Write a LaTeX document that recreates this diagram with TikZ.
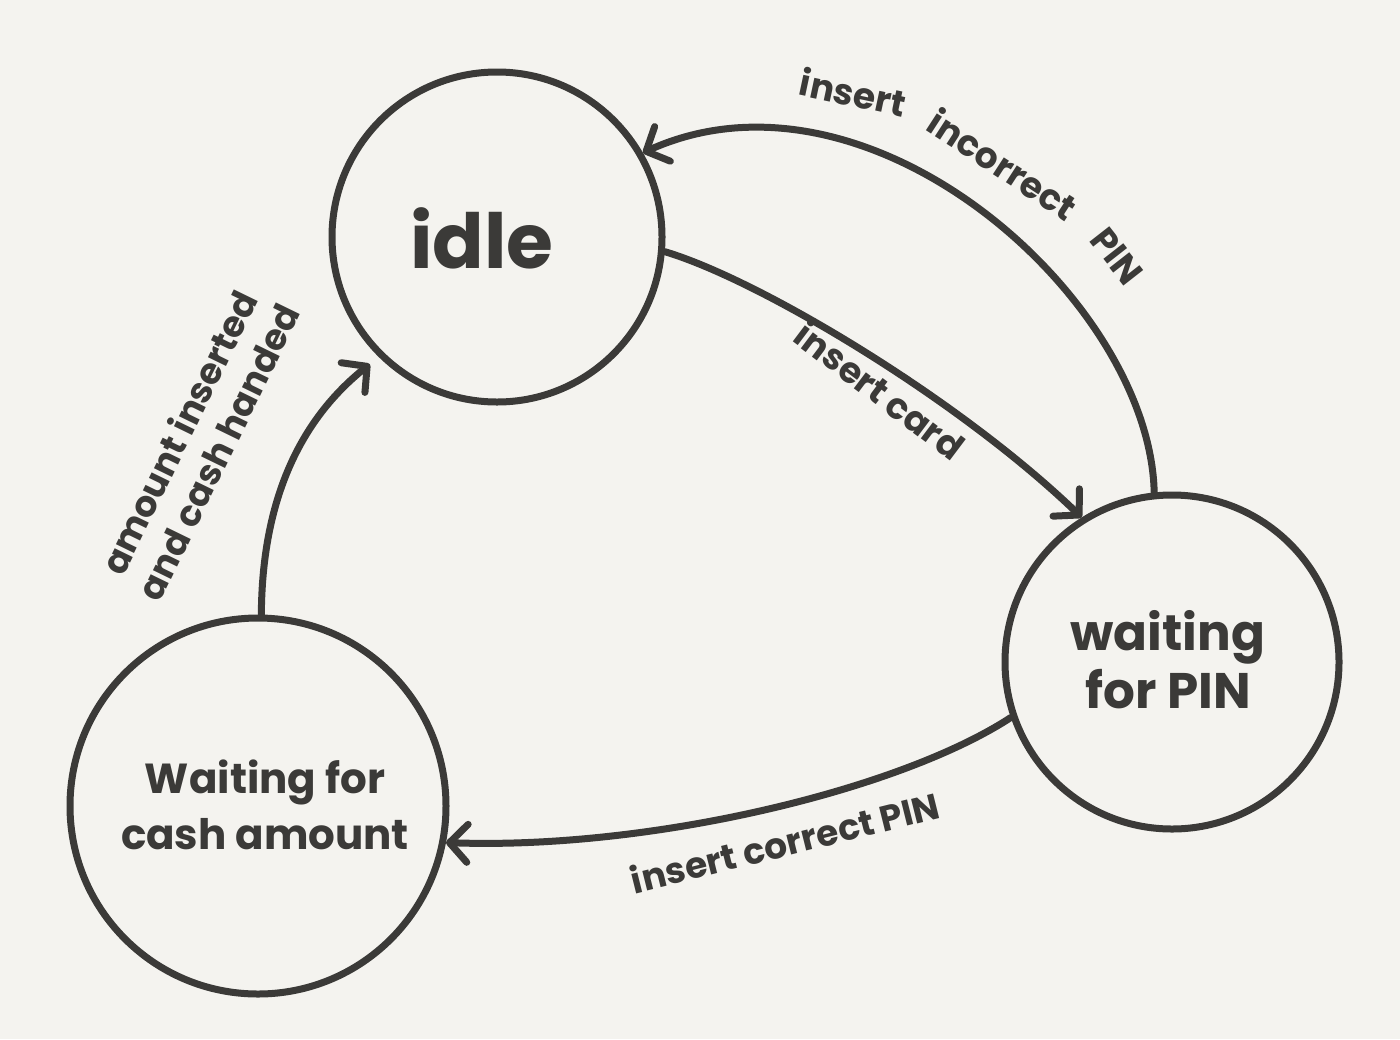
\documentclass[tikz,border=0pt]{standalone}
\usepackage{fontspec}
\setmainfont{Poppins}
\usetikzlibrary{arrows.meta}
\definecolor{ink}{HTML}{3B3A38}
\definecolor{paper}{HTML}{F4F3EF}
\newcommand{\lblfont}{\fontsize{18pt}{22pt}\selectfont\bfseries}
\begin{document}
\begin{tikzpicture}[x=0.5pt,y=-0.5pt,
  state/.style={circle,draw=ink,line width=3.5pt,inner sep=0pt,text=ink,align=center},
  conn/.style={draw=ink,line width=3.5pt,line cap=round,
    -{Straight Barb[length=9pt,width=19pt,round]}},
  lbl/.style={text=ink,font=\lblfont,align=center,inner sep=0pt},
  stxt/.style={text=ink,align=center,inner sep=0pt}]
\fill[paper] (0,0) rectangle (1400,1039);
\useasboundingbox (0,0) rectangle (1400,1039);

\node[state,minimum size=165pt] (idle) at (497,237) {};
\node[stxt,font=\fontsize{38pt}{44pt}\selectfont\bfseries] (idletxt) at (482,238) {idle};
\node[state,minimum size=167pt] (pin) at (1172,662) {};
\node[stxt,font=\fontsize{25pt}{29pt}\selectfont\bfseries] (pintxt) at (1168,660) {waiting\\for PIN};
\node[state,minimum size=188pt] (cash) at (258,806) {};
\node[stxt,font=\fontsize{21pt}{28pt}\selectfont\bfseries] (cashtxt) at (265,805) {Waiting for\\cash amount};

% insert incorrect PIN
\draw[conn] (pin.96) .. controls (1150,300) and (870,50) .. (idle.30);
\node[lbl,rotate=-12] (inc1) at (853,92) {insert};
\node[lbl,rotate=-33] (inc2) at (1003,164) {incorrect};
\node[lbl,rotate=-52] (inc3) at (1117,256) {PIN};

% insert card
\draw[conn] (idle.-5) .. controls (760,280) and (960,400) .. (pin.122);
\node[lbl,rotate=-37] (cardlbl) at (880,390) {insert card};

% insert correct PIN
\draw[conn] (pin.199) .. controls (900,790) and (650,850) .. (cash.-11);
\node[lbl,rotate=14] (corrlbl) at (785,842) {insert correct PIN};

% amount inserted
\draw[conn] (cash.89) .. controls (262,500) and (300,420) .. ([shift={(-8,8)}]idle.225);
\node[lbl,rotate=64] (amtlbl) at (198,442) {amount inserted\\and cash handed};
\end{tikzpicture}
\end{document}
